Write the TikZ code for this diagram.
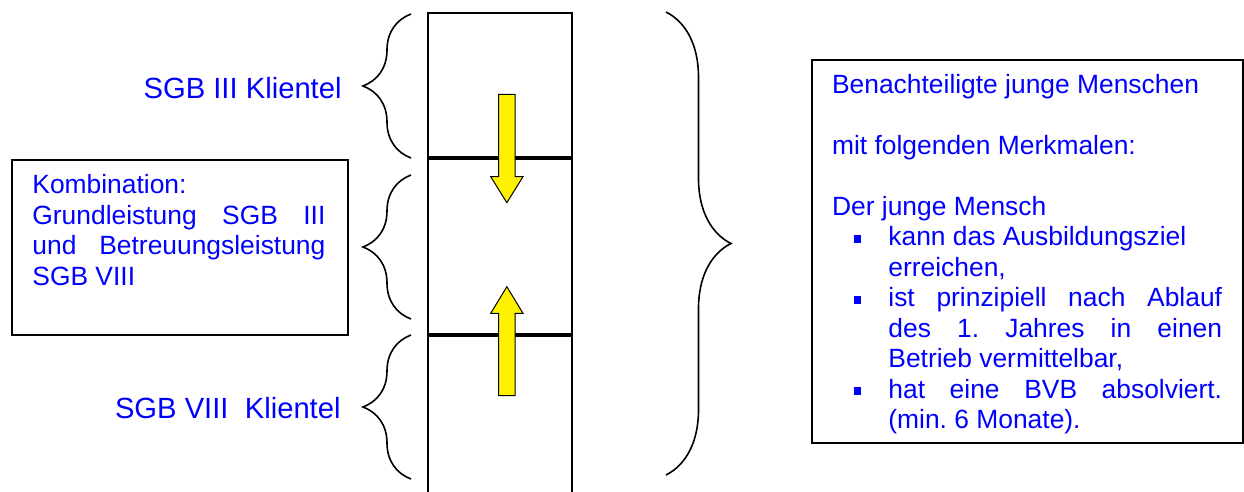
\documentclass[tikz,border=0pt]{standalone}
\usepackage{fontspec}
\setmainfont{Liberation Sans}
\usetikzlibrary{decorations.pathreplacing}
\newcommand{\itembox}{\rule[1.6pt]{3.9pt}{3.9pt}}
\newcommand{\blocksatz}{\frenchspacing\leftskip=0pt\rightskip=0pt\spaceskip=0pt\xspaceskip=0pt\parfillskip=0pt plus 1fil}
\newcommand{\merkmal}[1]{\par\hangindent=28.15pt\hangafter=0\noindent\llap{\itembox\hspace{13.55pt}}#1\par}

\begin{document}
\begin{tikzpicture}[x=0.5pt,y=-0.5pt,
  frame/.style={draw, line width=1pt, inner sep=0pt, anchor=north west},
  bodytext/.style={text=blue, font=\fontsize{13.2pt}{15.25pt}\selectfont, inner sep=0pt, anchor=base west},
  clienttext/.style={text=blue, font=\fontsize{14.6pt}{17pt}\selectfont, inner sep=0pt, anchor=base east},
  curly/.style={decorate, decoration={brace, amplitude=#1}, line width=0.8pt},
  blockarrow/.style={draw, line width=0.5pt, fill=yellow, line join=miter}]
\clip (0,0) rectangle (1244,492);
\node[frame, minimum width=72pt, minimum height=72pt] (upper) at (427,12) {};
\node[frame, minimum width=72pt, minimum height=87.5pt] (middle) at (upper.south west) {};
\node[frame, minimum width=72pt, minimum height=90pt] (lower) at (427,335) {};
\node[frame, minimum width=168pt, minimum height=87.5pt] (kombi) at (11,159) {};
\node[frame, minimum width=215.5pt, minimum height=191.5pt] (merkmale) at (811,59) {};
\node[bodytext, text width=146.5pt] (kombitext) at (32,194) {\blocksatz
  Kombination:\\ Grundleistung SGB III\linebreak und Betreuungsleistung\linebreak SGB VIII\par};
\node[bodytext, text width=195pt] (merkmaletext) at (831.7,93.3) {\blocksatz
  Benachteiligte junge Menschen\\[15.25pt]
  mit folgenden Merkmalen:\\[15.25pt]
  Der junge Mensch
  \merkmal{kann das Ausbildungsziel\newline erreichen,}
  \merkmal{ist prinzipiell nach Ablauf\linebreak des 1. Jahres in einen\linebreak Betrieb vermittelbar,}
  \merkmal{hat eine BVB absolviert.\linebreak (min. 6 Monate).}};
\node[clienttext] (sgbdrei) at (342,98.3) {SGB III Klientel};
\node[clienttext] (sgbacht) at (341,418.3) {SGB VIII\ \ Klientel};
\draw[curly=24pt] (411,158) -- (411,14);
\draw[curly=24pt] (411,319) -- (411,175);
\draw[curly=24pt] (411,479) -- (411,335);
\draw[curly=32.5pt] (666,12) -- (666,475);
\draw[blockarrow] (498.7,94.3) -- (515,94.3) -- (515,176.7) -- (523,176.7) -- (506.85,202.7) -- (490.7,176.7) -- (498.7,176.7) -- cycle;
\draw[blockarrow] (498.7,395.7) -- (515,395.7) -- (515,313.3) -- (523,313.3) -- (506.85,286.7) -- (490.7,313.3) -- (498.7,313.3) -- cycle;
\end{tikzpicture}
\end{document}
